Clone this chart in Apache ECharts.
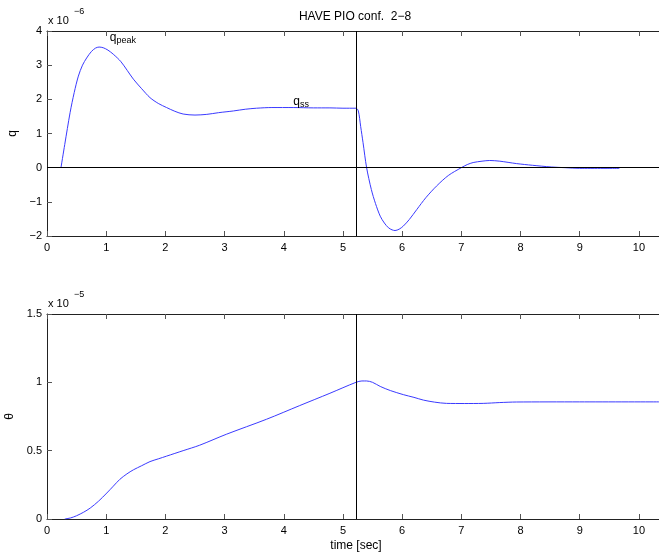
<!DOCTYPE html>
<html><head><meta charset="utf-8">
<script src="https://cdn.jsdelivr.net/npm/echarts@6/dist/echarts.min.js"></script>
<style>html,body{margin:0;padding:0;background:#fff}#c{width:659px;height:556px}</style>
</head><body><div id="c"></div>
<script>
// q response (units of 1e-6)
const qTime = [0.236,0.30,0.39,0.46,0.53,0.60,0.67,0.75,0.82,0.88,0.95,1.03,1.12,1.25,1.46,1.60,1.74,1.88,2.02,2.16,2.30,2.50,2.70,2.90,3.15,3.35,3.54,3.80,4.16,4.50,4.78,5.00,5.22,5.26,5.30,5.34,5.40,5.48,5.55,5.63,5.70,5.77,5.83,5.88,5.95,6.02,6.12,6.25,6.40,6.58,6.78,7.00,7.10,7.20,7.35,7.48,7.65,7.93,8.20,8.52,8.75,9.00,9.67];
const qValues = [0,0.68,1.61,2.20,2.68,3.00,3.21,3.40,3.50,3.53,3.51,3.44,3.32,3.10,2.59,2.31,2.05,1.88,1.76,1.65,1.57,1.54,1.56,1.61,1.66,1.71,1.74,1.76,1.76,1.75,1.75,1.74,1.74,1.66,1.20,0.73,0,-0.64,-1.05,-1.42,-1.62,-1.76,-1.82,-1.84,-1.80,-1.71,-1.52,-1.22,-0.88,-0.54,-0.23,0,0.09,0.15,0.19,0.21,0.19,0.12,0.07,0.02,0,-0.02,-0.02];
// theta response (units of 1e-5)
const thetaTime = [0.30,0.40,0.50,0.62,0.73,0.87,1.01,1.12,1.23,1.35,1.46,1.60,1.74,1.88,2.02,2.30,2.58,3.03,3.71,4.27,4.78,5.22,5.32,5.40,5.50,5.63,5.80,6.02,6.20,6.36,6.55,6.75,7.05,7.37,7.65,7.93,9.00,10.34];
const thetaValues = [0,0.008,0.024,0.05,0.08,0.13,0.19,0.24,0.29,0.33,0.36,0.39,0.42,0.44,0.46,0.50,0.54,0.62,0.73,0.83,0.92,1.00,1.01,1.01,1.00,0.97,0.94,0.91,0.89,0.87,0.855,0.846,0.845,0.846,0.852,0.856,0.857,0.857];
const switchTime = 5.22;
const xTickValues = [0,1,2,3,4,5,6,7,8,9,10];
const qTickValues = [-2,-1,0,1,2,3,4];
const thetaTickValues = [0,0.5,1,1.5];
const qPeakPoint = [0.88, 3.53];
const qSsPoint = [4.16, 1.76];

const FONT = '"Liberation Sans", Arial, Helvetica, sans-serif';
const AX = '#222';
const TK = '#555';
const chart = echarts.init(document.getElementById('c'));
const pair = (xs, ys) => xs.map((x, i) => [x, ys[i]]);
const minus = v => String(v).replace('-', '\u2212');

function xAx(grid, pos, labels) {
  return {
    type: 'value', gridIndex: grid, position: pos, min: 0, max: 10.34, interval: 1,
    axisLine: { show: true, onZero: false, lineStyle: { color: AX } },
    axisTick: { show: true, inside: true, length: 5, interval: 0, lineStyle: { color: TK } },
    axisLabel: { show: labels, color: '#000', fontFamily: FONT, fontSize: 11, margin: 6, showMaxLabel: false },
    splitLine: { show: false }
  };
}
function yAx(grid, min, max, interval, name) {
  return {
    type: 'value', gridIndex: grid, min, max, interval,
    name, nameLocation: 'middle', nameGap: 26, nameRotate: 90,
    nameTextStyle: { color: '#000', fontFamily: FONT, fontSize: 12 },
    axisLine: { show: true, onZero: false, lineStyle: { color: AX } },
    axisTick: { show: true, inside: true, length: 5, interval: 0, lineStyle: { color: TK } },
    axisLabel: { color: '#000', fontFamily: FONT, fontSize: 11, margin: 5, formatter: minus },
    splitLine: { show: false }
  };
}
const richLbl = {
  q: { fontFamily: FONT, fontSize: 12, color: '#000', verticalAlign: 'middle' },
  s: { fontFamily: FONT, fontSize: 9, color: '#000', verticalAlign: 'bottom', padding: [6, 0, 0, 0] }
};
const gridBase = { left: 47, width: 612, height: 205, show: false, containLabel: false, outerBoundsMode: 'none' };

chart.setOption({
  animation: false,
  backgroundColor: '#fff',
  grid: [
    Object.assign({ top: 31 }, gridBase),
    Object.assign({ top: 314 }, gridBase)
  ],
  xAxis: [xAx(0, 'bottom', true), xAx(0, 'top', false), xAx(1, 'bottom', true), xAx(1, 'top', false)],
  yAxis: [yAx(0, -2, 4, 1, 'q'), yAx(1, 0, 1.5, 0.5, '\u03b8')],
  graphic: [
    { type: 'text', x: 355, y: 11, style: { text: 'HAVE PIO conf.  2\u22128', font: '12px ' + FONT, fill: '#000', textAlign: 'center' } },
    { type: 'text', x: 356, y: 540, style: { text: 'time [sec]', font: '12px ' + FONT, fill: '#000', textAlign: 'center' } },
    { type: 'text', x: 48, y: 15, style: { text: 'x 10', font: '11px ' + FONT, fill: '#000' } },
    { type: 'text', x: 74, y: 7, style: { text: '\u22126', font: '9px ' + FONT, fill: '#000' } },
    { type: 'text', x: 48, y: 298, style: { text: 'x 10', font: '11px ' + FONT, fill: '#000' } },
    { type: 'text', x: 74, y: 290, style: { text: '\u22125', font: '9px ' + FONT, fill: '#000' } }
  ],
  series: [
    {
      type: 'line', xAxisIndex: 0, yAxisIndex: 0, data: pair(qTime, qValues),
      showSymbol: false, smooth: 0.3, z: 3,
      lineStyle: { color: '#3a3aff', width: 1 },
      markLine: {
        silent: true, symbol: 'none', label: { show: false },
        lineStyle: { color: '#000', width: 1, type: 'solid' },
        data: [{ yAxis: 0 }, { xAxis: switchTime }]
      },
      markPoint: {
        symbol: 'circle', symbolSize: 0,
        label: { show: true, position: 'right', distance: 0, rich: richLbl },
        data: [
          { coord: [qPeakPoint[0] + 0.18, qPeakPoint[1] + 0.27], label: { formatter: '{q|q}{s|peak}' } },
          { coord: [qSsPoint[0], qSsPoint[1] + 0.17], label: { formatter: '{q|q}{s|ss}' } }
        ]
      }
    },
    {
      type: 'line', xAxisIndex: 2, yAxisIndex: 1, data: pair(thetaTime, thetaValues),
      showSymbol: false, smooth: 0.3,
      lineStyle: { color: '#3a3aff', width: 1 },
      markLine: {
        silent: true, symbol: 'none', label: { show: false },
        lineStyle: { color: '#000', width: 1, type: 'solid' },
        data: [{ xAxis: switchTime }]
      }
    }
  ]
});
</script></body></html>
